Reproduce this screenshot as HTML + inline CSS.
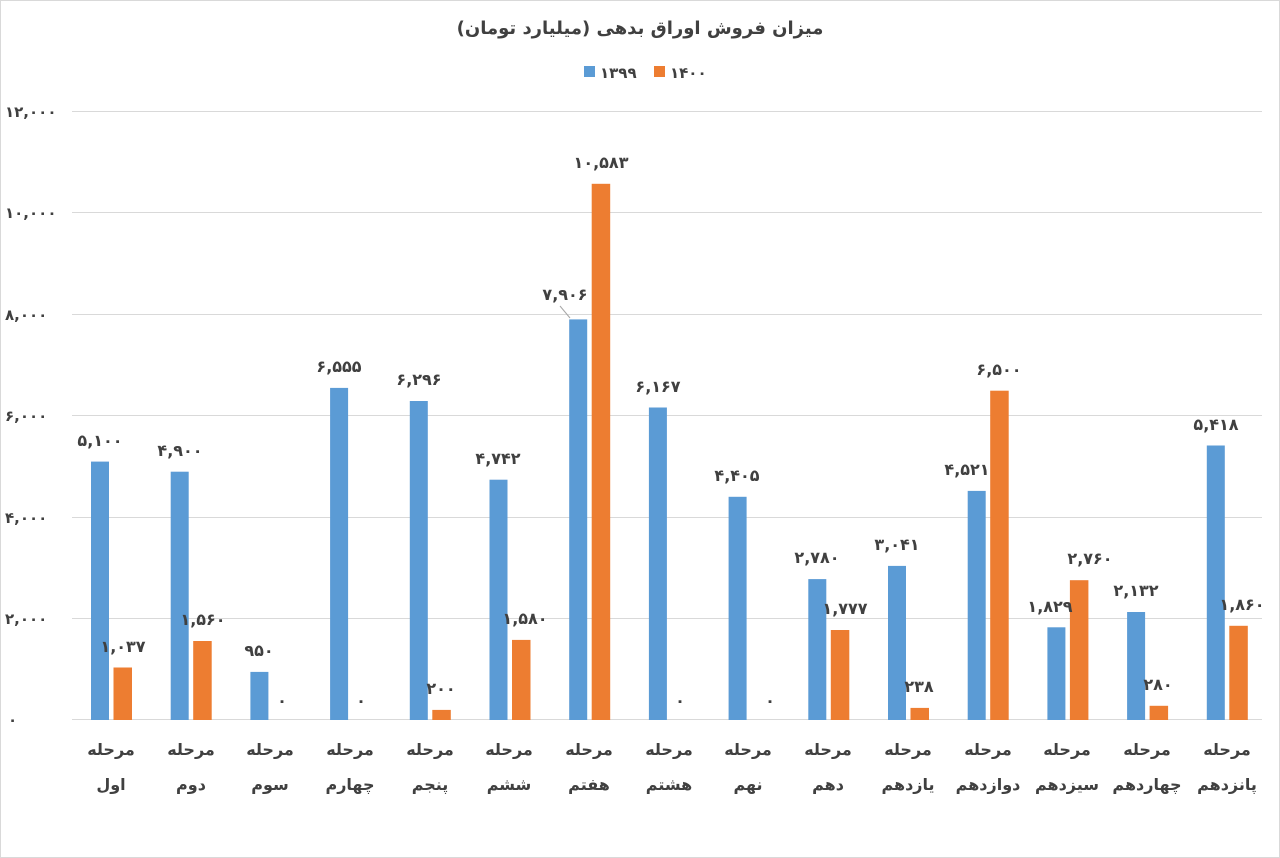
<!DOCTYPE html>
<html><head><meta charset="utf-8"><style>
html,body{margin:0;padding:0;background:#fff;}
svg{display:block;font-family:"DejaVu Sans","Liberation Sans",sans-serif;}
.v{font-size:16px;font-weight:bold;fill:#404040;text-anchor:middle;}
.y{font-size:15px;font-weight:bold;fill:#404040;}
.c{font-size:16px;fill:#404040;text-anchor:middle;font-weight:bold;}
</style></head><body>
<svg width="1280" height="858" viewBox="0 0 1280 858">
<rect x="0.5" y="0.5" width="1279" height="857" fill="#fff" stroke="#d9d9d9"/>
<text x="640" y="34" font-size="18" font-weight="bold" fill="#404040" text-anchor="middle" direction="rtl">میزان فروش اوراق بدهی (میلیارد تومان)</text>
<rect x="584" y="66" width="11" height="11" fill="#5b9bd5"/>
<text x="600" y="78" class="y">۱۳۹۹</text>
<rect x="654" y="66" width="11" height="11" fill="#ed7d31"/>
<text x="670" y="78" class="y">۱۴۰۰</text>
<g stroke="#d9d9d9" stroke-width="1">
<line x1="72" x2="1262" y1="111.5" y2="111.5"/>
<line x1="72" x2="1262" y1="212.5" y2="212.5"/>
<line x1="72" x2="1262" y1="314.5" y2="314.5"/>
<line x1="72" x2="1262" y1="415.5" y2="415.5"/>
<line x1="72" x2="1262" y1="517.5" y2="517.5"/>
<line x1="72" x2="1262" y1="618.5" y2="618.5"/>
<line x1="72" x2="1262" y1="719.5" y2="719.5"/>
</g>
<g class="y">
<text x="5" y="117">۱۲,۰۰۰</text>
<text x="5" y="218">۱۰,۰۰۰</text>
<text x="5" y="320">۸,۰۰۰</text>
<text x="5" y="421">۶,۰۰۰</text>
<text x="5" y="523">۴,۰۰۰</text>
<text x="5" y="624">۲,۰۰۰</text>
<text x="8" y="725">۰</text>
</g>
<g fill="#5b9bd5">
<rect x="91" y="461.6" width="18" height="258.4"/>
<rect x="170.7" y="471.7" width="18" height="248.3"/>
<rect x="250.4" y="671.9" width="18" height="48.1"/>
<rect x="330.1" y="387.9" width="18" height="332.1"/>
<rect x="409.8" y="401" width="18" height="319"/>
<rect x="489.5" y="479.7" width="18" height="240.3"/>
<rect x="569.2" y="319.4" width="18" height="400.6"/>
<rect x="648.9" y="407.5" width="18" height="312.5"/>
<rect x="728.6" y="496.8" width="18" height="223.2"/>
<rect x="808.3" y="579.1" width="18" height="140.9"/>
<rect x="888" y="565.9" width="18" height="154.1"/>
<rect x="967.7" y="490.9" width="18" height="229.1"/>
<rect x="1047.4" y="627.3" width="18" height="92.7"/>
<rect x="1127.1" y="612" width="18" height="108"/>
<rect x="1206.8" y="445.5" width="18" height="274.5"/>
</g>
<g fill="#ed7d31">
<rect x="113.5" y="667.5" width="18.5" height="52.5"/>
<rect x="193.2" y="641" width="18.5" height="79"/>
<rect x="432.3" y="709.9" width="18.5" height="10.1"/>
<rect x="512" y="639.9" width="18.5" height="80.1"/>
<rect x="591.7" y="183.8" width="18.5" height="536.2"/>
<rect x="830.8" y="630" width="18.5" height="90"/>
<rect x="910.5" y="707.9" width="18.5" height="12.1"/>
<rect x="990.2" y="390.7" width="18.5" height="329.3"/>
<rect x="1069.9" y="580.2" width="18.5" height="139.8"/>
<rect x="1149.6" y="705.8" width="18.5" height="14.2"/>
<rect x="1229.3" y="625.8" width="18.5" height="94.2"/>
</g>
<line x1="570" y1="318" x2="560" y2="306" stroke="#a6a6a6"/>
<g class="v">
<text x="100" y="446">۵,۱۰۰</text>
<text x="180" y="456">۴,۹۰۰</text>
<text x="259" y="656">۹۵۰</text>
<text x="339" y="372">۶,۵۵۵</text>
<text x="419" y="385">۶,۲۹۶</text>
<text x="498" y="464">۴,۷۴۲</text>
<text x="565" y="300">۷,۹۰۶</text>
<text x="658" y="392">۶,۱۶۷</text>
<text x="737" y="481">۴,۴۰۵</text>
<text x="817" y="563">۲,۷۸۰</text>
<text x="897" y="550">۳,۰۴۱</text>
<text x="967" y="475">۴,۵۲۱</text>
<text x="1050" y="612">۱,۸۲۹</text>
<text x="1136" y="596">۲,۱۳۲</text>
<text x="1216" y="430">۵,۴۱۸</text>
<text x="123" y="652">۱,۰۳۷</text>
<text x="203" y="625">۱,۵۶۰</text>
<text x="282" y="706">۰</text>
<text x="361" y="706">۰</text>
<text x="441" y="694">۲۰۰</text>
<text x="525" y="624">۱,۵۸۰</text>
<text x="601" y="168">۱۰,۵۸۳</text>
<text x="680" y="706">۰</text>
<text x="770" y="706">۰</text>
<text x="845" y="614">۱,۷۷۷</text>
<text x="919" y="692">۲۳۸</text>
<text x="999" y="375">۶,۵۰۰</text>
<text x="1090" y="564">۲,۷۶۰</text>
<text x="1158" y="690">۲۸۰</text>
<text x="1242" y="610">۱,۸۶۰</text>
</g>
<g class="c" direction="rtl">
<text x="111" y="755">مرحله</text><text x="111" y="790">اول</text>
<text x="191" y="755">مرحله</text><text x="191" y="790">دوم</text>
<text x="270" y="755">مرحله</text><text x="270" y="790">سوم</text>
<text x="350" y="755">مرحله</text><text x="350" y="790">چهارم</text>
<text x="430" y="755">مرحله</text><text x="430" y="790">پنجم</text>
<text x="509" y="755">مرحله</text><text x="509" y="790">ششم</text>
<text x="589" y="755">مرحله</text><text x="589" y="790">هفتم</text>
<text x="669" y="755">مرحله</text><text x="669" y="790">هشتم</text>
<text x="748" y="755">مرحله</text><text x="748" y="790">نهم</text>
<text x="828" y="755">مرحله</text><text x="828" y="790">دهم</text>
<text x="908" y="755">مرحله</text><text x="908" y="790">یازدهم</text>
<text x="988" y="755">مرحله</text><text x="988" y="790">دوازدهم</text>
<text x="1067" y="755">مرحله</text><text x="1067" y="790">سیزدهم</text>
<text x="1147" y="755">مرحله</text><text x="1147" y="790">چهاردهم</text>
<text x="1227" y="755">مرحله</text><text x="1227" y="790">پانزدهم</text>
</g>
</svg>
</body></html>
